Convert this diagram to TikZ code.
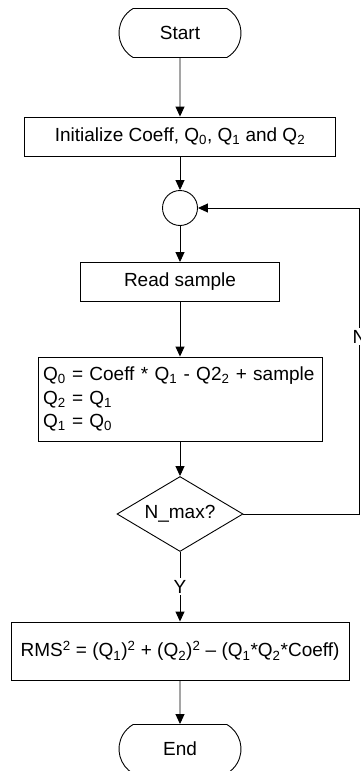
\documentclass[tikz,border=0pt]{standalone}
\usepackage{fontspec}
\setmainfont{Liberation Sans}
\usetikzlibrary{arrows.meta, positioning, shapes.geometric, shapes.misc}

\begin{document}
\begin{tikzpicture}[x=1pt, y=1pt, >={Triangle[length=10pt, width=9pt]}, line width=0.9pt, font=\fontsize{19}{23.5}\selectfont]
        % Styles for the flowchart blocks
        \tikzstyle{terminal} = [draw, rounded rectangle, rounded rectangle arc length=120, minimum width=122pt, minimum height=49pt, inner sep=0pt]
        \tikzstyle{process} = [draw, rectangle, minimum height=39pt, inner sep=5pt]
        \tikzstyle{joint} = [draw, circle, minimum size=35pt, inner sep=0pt] % Loop joining point
        \tikzstyle{decision} = [draw, diamond, aspect=1.68, minimum width=126pt, minimum height=75pt, inner sep=0pt]
        \tikzstyle{branch} = [fill=white, inner sep=2pt] % Branch label on a line
        \useasboundingbox (0,0) rectangle (361,-771);
       % Nodes
       \node [terminal] at (180,-33) (start) {Start}; % Start
       \node [process, on grid, below=103.5pt of start, minimum width=311pt] (init) {Initialize Coeff, Q\textsubscript{0}, Q\textsubscript{1} and Q\textsubscript{2}}; % Initialization
       \node [joint, on grid, below=71.5pt of init] (join) {}; % Loop entry
       \node [process, on grid, below=74pt of join, minimum width=199pt] (read) {Read sample}; % Read a sample
       \node [process, on grid, below=117pt of read, text width=274pt, minimum height=84pt, align=left] (update) {Q\textsubscript{0} = Coeff * Q\textsubscript{1} - Q2\textsubscript{2} + sample\\ Q\textsubscript{2} = Q\textsubscript{1}\\ Q\textsubscript{1} = Q\textsubscript{0}}; % Filter update
       \node [decision, on grid, below=115pt of update] (check) {N\_max?}; % Test
       \node [process, on grid, below=137pt of check, minimum width=338pt, minimum height=58pt] (rms) {RMS\textsuperscript{2} = (Q\textsubscript{1})\textsuperscript{2} + (Q\textsubscript{2})\textsuperscript{2} – (Q\textsubscript{1}*Q\textsubscript{2}*Coeff)}; % Result
       \node [terminal, on grid, below=98pt of rms] (finish) {End}; % End
       \coordinate [on grid, right=116pt of check.east] (loopB); % Lower elbow of the loop
       \coordinate (loopT) at (loopB |- join); % Upper elbow of the loop
       % Connections
       \draw[->] (start) -- (init);
       \draw[->] (init) -- (join);
       \draw[->] (join) -- (read);
       \draw[->] (read) -- (update);
       \draw[->] (update) -- (check);
       \draw[->] (check) -- node[branch]{Y} (rms); % Yes branch
       \draw[->] (check.east) -- (loopB) -- node[branch, pos=0.58]{N} (loopT) -- (join); % No branch
       \draw[->] (rms) -- (finish);
\end{tikzpicture}
\end{document}
